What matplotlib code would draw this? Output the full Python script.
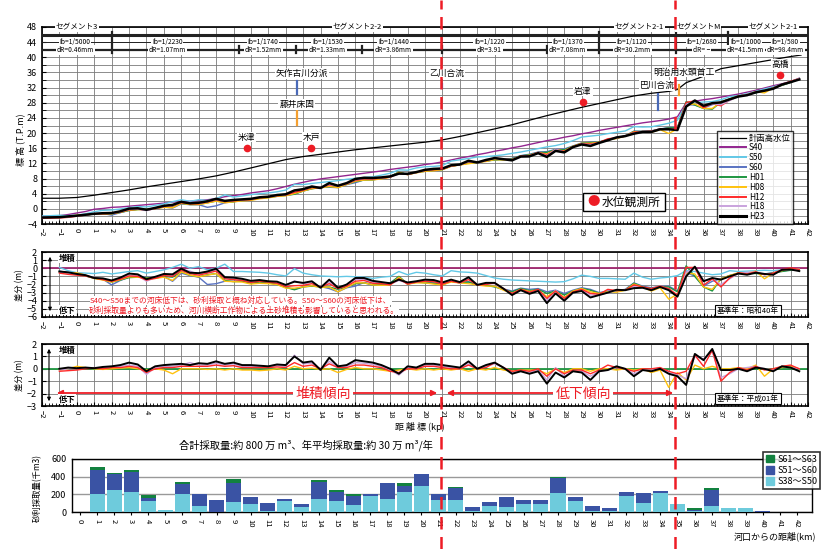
import numpy as np
import matplotlib
matplotlib.use('Agg')
import matplotlib.pyplot as plt
from matplotlib.lines import Line2D
from matplotlib.patches import Rectangle, Patch, FancyArrowPatch
from matplotlib.ticker import MultipleLocator

plt.rcParams['font.family'] = ['Noto Sans CJK JP', 'DejaVu Sans']
plt.rcParams['axes.unicode_minus'] = True

W, H = 832, 549

# ---------------- data ----------------
km = [-2, -1.5, -1, -0.5, 0, 0.5, 1, 1.5, 2, 2.5,
      3, 3.5, 4, 4.5, 5, 5.5, 6, 6.5, 7, 7.5,
      8, 8.5, 9, 9.5, 10, 10.5, 11, 11.5, 12, 12.5,
      13, 13.5, 14, 14.5, 15, 15.5, 16, 16.5, 17, 17.5,
      18, 18.5, 19, 19.5, 20, 20.5, 21, 21.5, 22, 22.5,
      23, 23.5, 24, 24.5, 25, 25.5, 26, 26.5, 27, 27.5,
      28, 28.5, 29, 29.5, 30, 30.5, 31, 31.5, 32, 32.5,
      33, 33.5, 34, 34.5, 35, 35.5, 36, 36.5, 37, 37.5,
      38, 38.5, 39, 39.5, 40, 40.5, 41, 41.5]

# S40 riverbed elevation (T.P.m)
S40 = [-2.0, -1.9, -1.8, -1.5, -1.1, -0.7, -0.1, 0.1, 0.4, 0.5,
       0.7, 0.9, 1.1, 1.3, 1.5, 1.8, 1.9, 2.0, 2.2, 2.4,
       2.7, 3.2, 3.5, 3.8, 4.2, 4.5, 4.8, 5.3, 5.9, 6.5,
       7.0, 7.5, 7.9, 8.2, 8.5, 8.8, 9.1, 9.4, 9.7, 10.0,
       10.4, 10.7, 11.0, 11.3, 11.7, 12.0, 12.4, 12.9, 13.4, 13.8,
       14.3, 14.7, 15.2, 15.6, 16.1, 16.5, 17.0, 17.5, 18.0, 18.4,
       18.9, 19.3, 19.8, 20.2, 20.7, 21.1, 21.5, 21.9, 22.3, 22.7,
       23.0, 23.3, 23.7, 24.3, 28.0, 28.4, 28.8, 29.1, 29.5, 29.9,
       30.3, 30.8, 31.3, 31.9, 32.5, 33.0, 33.6, 34.5]

# differences from S40 (m)
dS50 = [0.1, 0.1, 0.1, -0.3, -0.55, -0.6, -0.65, -0.5, -0.7, -0.55,
        -0.4, -0.3, -0.6, -0.4, -0.2, 0.1, 0.5, 0.0, 0.2, -0.2,
        0.0, 0.5, -0.4, -0.4, -0.45, -0.5, -0.6, -0.8, -0.95, -0.05,
        -0.6, -0.8, -0.95, -1.0, -1.05, -1.0, -1.05, -1.1, -1.25, -1.1,
        -1.0, -0.4, -0.8, -0.5, -0.6, -0.8, -0.95, -0.3, -0.45, -0.5,
        -0.6, -0.9, -1.2, -1.35, -1.45, -1.5, -1.55, -1.6, -1.65, -1.7,
        -1.65, -1.3, -0.85, -1.0, -1.25, -1.25, -1.3, -1.35, -0.6, -1.1,
        -1.35, -1.2, -1.1, -0.9, -0.3, -0.4, -0.6, -0.8, -0.7, -0.3,
        -0.4, -0.35, -0.3, -0.25, -0.3, -0.2, -0.15, -0.1]

dS60 = [-0.3, -0.35, -0.35, -0.55, -0.7, -0.9, -1.2, -1.35, -2.05, -1.5,
        -1.1, -1.0, -1.1, -1.2, -1.0, -1.6, -0.6, -0.9, -1.1, -2.0,
        -1.9, -1.6, -1.6, -1.55, -1.8, -1.65, -1.75, -1.95, -2.3, -2.6,
        -2.25, -2.15, -2.25, -2.5, -2.9, -2.4, -2.2, -1.75, -2.0, -1.95,
        -1.8, -1.05, -1.9, -1.65, -1.75, -1.8, -2.0, -1.55, -1.75, -1.65,
        -2.0, -2.05, -2.25, -2.55, -2.8, -2.45, -2.6, -2.5, -2.9, -2.7,
        -3.1, -2.7, -2.4, -2.6, -3.0, -2.8, -2.75, -2.6, -1.8, -2.2,
        -2.4, -2.25, -2.2, -2.8, -0.5, -1.0, -2.2, -1.6, -1.3, -0.9,
        -0.6, -0.6, -0.6, -0.7, -0.55, -0.35, -0.2, -0.15]

dH01 = [-0.3, -0.35, -0.4, -0.6, -0.75, -0.95, -1.25, -1.4, -1.7, -1.45,
        -1.15, -1.1, -1.15, -1.25, -1.0, -1.1, -0.45, -0.85, -1.05, -0.8,
        -0.65, -1.5, -1.65, -1.6, -1.85, -1.7, -1.8, -2.0, -2.35, -2.65,
        -2.3, -2.2, -2.3, -2.3, -2.6, -2.3, -1.9, -1.8, -2.05, -2.0,
        -1.85, -1.0, -1.95, -1.7, -1.8, -1.85, -2.05, -1.6, -1.8, -1.7,
        -2.05, -2.1, -2.3, -2.6, -2.9, -2.5, -2.75, -2.6, -3.1, -2.8,
        -3.3, -2.8, -2.5, -2.7, -3.1, -2.9, -2.85, -2.7, -1.85, -2.3,
        -2.5, -2.3, -2.3, -2.9, 0.3, -1.0, -2.3, -2.8, -1.3, -0.9,
        -0.65, -0.6, -0.65, -0.7, -0.6, -0.4, -0.25, -0.15]

# differences from H01 (m)
eH08 = [-0.1, -0.1, -0.1, 0.0, 0.2, 0.1, 0.0, -0.05, 0.0, 0.05,
        0.1, 0.0, -0.1, 0.0, -0.1, -0.4, 0.0, 0.0, 0.0, -0.05,
        0.0, -0.1, 0.0, -0.1, -0.1, -0.15, -0.1, 0.0, -0.1, 0.2,
        0.0, 0.05, -0.05, 0.0, -0.3, -0.05, 0.1, 0.0, 0.0, -0.1,
        -0.2, -0.1, 0.0, -0.1, 0.0, -0.1, 0.0, -0.1, 0.0, -0.2,
        0.0, -0.1, 0.1, -0.1, -0.2, -0.1, -0.1, -0.1, -0.4, 0.0,
        -0.3, 0.0, 0.0, -0.2, 0.0, 0.0, -0.1, 0.0, -0.1, 0.0,
        -0.3, -0.1, -1.5, -0.3, -0.9, 0.3, 0.0, 0.2, 0.0, 0.0,
        0.1, 0.0, 0.3, -0.6, 0.0, 0.1, 0.2, 0.0]

eH12 = [-0.2, -0.2, -0.2, -0.15, -0.1, 0.0, 0.05, 0.0, 0.1, 0.1,
        0.2, 0.1, -0.3, 0.0, 0.1, 0.1, 0.2, 0.2, 0.2, 0.2,
        0.3, 0.2, 0.25, 0.1, 0.1, 0.1, 0.1, 0.15, 0.1, 0.5,
        0.2, 0.3, 0.0, 0.4, 0.1, 0.1, 0.3, 0.3, 0.2, 0.1,
        -0.2, -0.3, 0.0, 0.0, 0.2, 0.2, 0.1, 0.0, 0.0, 0.3,
        0.0, 0.1, 0.5, 0.1, -0.2, -0.1, -0.2, 0.0, -0.6, 0.0,
        -0.4, -0.1, -0.1, -0.4, -0.1, 0.3, 0.1, 0.0, -0.2, 0.0,
        0.0, 0.1, -0.2, -0.4, -0.2, 1.1, 0.2, 1.5, -1.0, -0.3,
        0.1, -0.1, 0.2, -0.1, 0.0, 0.2, 0.3, 0.0]

eH18 = [0.0, 0.0, -0.1, 0.0, 0.0, 0.05, 0.1, 0.1, 0.15, 0.2,
        0.3, 0.2, -0.45, 0.1, 0.2, 0.2, 0.3, 0.5, 0.3, 0.3,
        0.45, 0.3, 0.4, 0.2, 0.2, 0.2, 0.15, 0.25, 0.2, 1.1,
        0.4, 0.45, 0.0, 0.6, 0.1, 0.2, 0.5, 0.45, 0.35, 0.2,
        -0.1, -0.5, 0.1, 0.0, 0.3, 0.3, 0.2, 0.1, 0.0, 0.4,
        0.0, 0.2, 0.4, 0.1, -0.3, -0.2, -0.3, -0.1, -0.9, 0.1,
        -0.6, -0.2, -0.2, -0.6, -0.2, -0.1, 0.1, 0.0, -0.4, -0.1,
        -0.1, 0.1, -0.3, -0.5, -0.8, 1.0, 0.8, 1.4, -0.7, -0.4,
        0.0, 0.1, 0.2, 0.0, -0.1, 0.2, 0.1, 0.0]

eH23 = [0.0, 0.0, 0.0, 0.1, 0.05, 0.1, 0.05, 0.15, 0.2, 0.3,
        0.5, 0.35, -0.2, 0.2, 0.3, 0.35, 0.4, 0.3, 0.45, 0.4,
        0.6, 0.4, 0.5, 0.3, 0.3, 0.25, 0.2, 0.35, 0.3, 1.0,
        0.5, 0.6, -0.1, 0.9, 0.2, 0.3, 0.7, 0.6, 0.5, 0.3,
        0.0, -0.4, 0.2, 0.1, 0.4, 0.4, 0.3, 0.2, 0.1, 0.6,
        0.0, 0.3, 0.5, 0.1, -0.4, -0.2, -0.4, -0.2, -1.2, -0.3,
        -0.7, -0.2, -0.3, -0.9, -0.2, -0.1, 0.2, 0.0, -0.6, -0.1,
        -0.2, 0.0, -0.4, -0.6, -1.3, 1.2, 0.7, 1.6, -0.1, -0.1,
        0.0, -0.2, 0.1, 0.0, -0.2, 0.2, 0.1, -0.2]

# planned high water level
hwl_km = [-2, -1, 0, 1, 2, 3, 4, 5, 6, 7, 8, 9, 10, 11, 12, 13, 14, 15, 16, 17,
          18, 19, 20, 21, 22, 23, 24, 25, 26, 27, 28, 29, 30, 31, 32, 33, 34,
          34.5, 35, 36, 37, 38, 39, 40, 41, 41.6]
hwl = [2.8, 2.8, 3.0, 3.6, 4.3, 5.0, 5.8, 6.5, 7.2, 7.9, 8.7, 9.7, 10.8, 11.9,
       13.0, 13.8, 14.4, 15.0, 15.6, 16.1, 16.6, 17.1, 17.6, 18.2, 19.1, 20.1,
       21.1, 22.2, 23.4, 24.6, 25.7, 26.8, 27.8, 28.8, 29.8, 30.5, 31.0, 31.5,
       33.3, 35.0, 37.0, 37.8, 38.6, 39.4, 40.2, 40.6]

# gravel extraction (thousand m3)
bar_km = list(range(0, 43))
g_S38_S50 = [0, 200, 245, 222, 121, 23, 200, 64, 5, 109, 87, 10, 124, 53, 143,
             124, 75, 177, 143, 222, 290, 132, 132, 8, 64, 53, 87, 87, 211, 121,
             11, 8, 177, 98, 211, 87, 11, 64, 41, 41, 5, 0, 0]
g_S51_S60 = [3, 280, 190, 227, 41, 0, 113, 136, 127, 219, 79, 88, 23, 34, 196,
             106, 110, 23, 181, 72, 136, 68, 139, 45, 45, 113, 45, 45, 174, 45,
             53, 33, 45, 113, 23, 0, 8, 181, 0, 0, 3, 0, 0]
g_S61_S63 = [0, 25, 7, 22, 26, 0, 23, 0, 0, 41, 0, 0, 0, 0, 19, 15, 19, 0, 0,
             30, 0, 0, 8, 0, 0, 0, 0, 0, 7, 0, 0, 0, 0, 0, 0, 0, 22, 23, 0, 0,
             0, 0, 0]

# annotations
seg_names = ['セグメント3', 'セグメント2-2', 'セグメント2-1', 'セグメントM', 'セグメント2-1']
seg_pos = [0, 16.1, 32.3, 35.7, 40.0]
seg_bounds = [2, 30, 34.4, 37.4]
sub_bounds = [9.3, 12.6, 16.4, 21, 27, 39.1]
ib_text = ['Ib=1/5000', 'Ib=1/2230', 'Ib=1/1740', 'Ib=1/1530', 'Ib=1/1440', 'Ib=1/1220',
           'Ib=1/1370', 'Ib=1/1120', 'Ib=1/2680', 'Ib=1/1000', 'Ib=1/580']
dr_text = ['dR=0.46mm', 'dR=1.07mm', 'dR=1.52mm', 'dR=1.33mm', 'dR=3.86mm', 'dR=3.91',
           'dR=7.08mm', 'dR=30.2mm', 'dR= −', 'dR=41.5mm', 'dR=98.4mm']
ib_pos = [-0.1, 5.2, 10.7, 14.4, 18.2, 23.7, 28.2, 31.9, 35.9, 38.4, 40.7]

stations = ['米津', '木戸', '岩津', '高橋']
st_km = [9.76, 13.46, 29.07, 40.41]
st_el = [16.05, 16.05, 28.2, 35.3]

structs = ['矢作古川分派', '藤井床固', '乙川合流', '巴川合流', '明治用水頭首工']
struct_text_km = [12.92, 12.64, 21.26, 33.33, 34.86]
struct_text_el = [35.7, 27.6, 35.7, 32.5, 36.1]
struct_km = [12.64, 12.64, 21.0, 33.38, 34.6]
struct_lo = [30.3, 22.2, 31.8, 26.1, 30.0]
struct_hi = [33.8, 26.0, 33.0, 30.3, 32.6]
struct_col = ['#4a6ab8', '#f5a030', '#4a6ab8', '#4a6ab8', '#f5a030']

# ---------------- derived series ----------------
x = np.array(km)
s40 = np.array(S40)
d50, d60, d01 = np.array(dS50), np.array(dS60), np.array(dH01)
e08, e12, e18, e23 = np.array(eH08), np.array(eH12), np.array(eH18), np.array(eH23)

prof = {
    'S40': s40, 'S50': s40 + d50, 'S60': s40 + d60, 'H01': s40 + d01,
    'H08': s40 + d01 + e08, 'H12': s40 + d01 + e12,
    'H18': s40 + d01 + e18, 'H23': s40 + d01 + e23,
}
diff40 = {'S50': d50, 'S60': d60, 'H01': d01, 'H08': d01 + e08,
          'H12': d01 + e12, 'H18': d01 + e18, 'H23': d01 + e23}
diff01 = {'H08': e08, 'H12': e12, 'H18': e18, 'H23': e23}

col = {'S40': '#93268f', 'S50': '#62c8e6', 'S60': '#5a73c2', 'H01': '#1e9640',
       'H08': '#ffc20e', 'H12': '#ff2a2a', 'H18': '#c9a3dd', 'H23': '#000000'}
lw = {'S40': 1.0, 'S50': 1.0, 'S60': 1.0, 'H01': 1.0, 'H08': 1.0, 'H12': 1.0,
      'H18': 1.0, 'H23': 1.8}

# ---------------- figure ----------------
fig = plt.figure(figsize=(W / 100, H / 100), dpi=100)


def add_ax(l, t, r, b):
    return fig.add_axes([l / W, 1 - b / H, (r - l) / W, (b - t) / H])


def ftext(px, py, s, **kw):
    return fig.text(px / W, 1 - py / H, s, **kw)


def style_x(ax):
    ax.set_xlim(-2, 42)
    ax.set_xticks(range(-2, 43))
    ax.xaxis.set_minor_locator(MultipleLocator(0.2))
    ax.tick_params(axis='x', which='major', labelsize=5.5, labelrotation=270,
                   direction='in', length=3, pad=3)
    ax.tick_params(axis='x', which='minor', direction='in', length=2)
    ax.tick_params(axis='y', which='both', direction='in', labelsize=6.5, length=3)
    for s in ax.spines.values():
        s.set_linewidth(1.2)


GRID = '#7a7a7a'

# ---- top panel ----
ax1 = add_ax(42, 27, 808, 224)
style_x(ax1)
ax1.set_ylim(-4, 48)
ax1.set_yticks(range(-4, 49, 4))
ax1.yaxis.set_minor_locator(MultipleLocator(2))
ax1.grid(True, which='major', axis='x', color=GRID, lw=0.6)
ax1.grid(True, which='both', axis='y', color=GRID, lw=0.6)
ax1.set_axisbelow(True)

ax1.plot(hwl_km, hwl, color='black', lw=0.9, zorder=3)
for k in ['S40', 'S50', 'S60', 'H01', 'H08', 'H12', 'H18', 'H23']:
    ax1.plot(x, prof[k], color=col[k], lw=lw[k], zorder=3)

# header
ax1.plot([-2, 42], [46, 46], color='#222', lw=2.2, zorder=4)
ax1.plot([-2, 42], [44, 44], color='#222', lw=0.7, zorder=4)
ax1.plot([-2, 42], [42, 42], color='#222', lw=1.6, zorder=4)
for b in seg_bounds:
    ax1.plot([b, b], [41.2, 46.8], color='#222', lw=1.6, zorder=4)
for b in sub_bounds:
    ax1.plot([b, b], [41.2, 42.9], color='#222', lw=1.6, zorder=4)
wb = dict(fc='white', ec='none', pad=0.6)
for n, p in zip(seg_names, seg_pos):
    ax1.text(p, 48, n, fontsize=5.5, ha='center', va='center', bbox=wb, zorder=6, clip_on=False)
for a, b_, p in zip(ib_text, dr_text, ib_pos):
    ax1.text(p, 44, a, fontsize=4.8, ha='center', va='center', bbox=wb, zorder=6)
    ax1.text(p, 42, b_, fontsize=4.8, ha='center', va='center', bbox=wb, zorder=6)

# stations and structures
ax1.plot(st_km, st_el, 'o', color='#ee1c25', ms=4.5, zorder=6)
for n, k, e in zip(stations, st_km, st_el):
    ax1.text(k, e + 2.9, n, fontsize=6.3, ha='center', va='center', bbox=wb, zorder=6)
for n, tk, te, k, lo, hi, c in zip(structs, struct_text_km, struct_text_el, struct_km,
                                     struct_lo, struct_hi, struct_col):
    ax1.plot([k, k], [lo, hi], color=c, lw=1.6, zorder=6)
    ax1.text(tk, te, n, fontsize=6.3, ha='center', va='center', bbox=wb, zorder=6)

handles = [Line2D([], [], color='black', lw=0.9, label='計画高水位')]
for k in ['S40', 'S50', 'S60', 'H01', 'H08', 'H12', 'H18', 'H23']:
    handles.append(Line2D([], [], color=col[k], lw=lw[k] + 0.4, label=k))
leg = fig.legend(handles=handles, loc='upper left', bbox_to_anchor=(717 / W, 1 - 131 / H),
                 fontsize=6, frameon=True, fancybox=False, edgecolor='black',
                 handlelength=3.2, labelspacing=0.1, borderpad=0.3, handletextpad=0.3,
                 borderaxespad=0)
leg.get_frame().set_linewidth(1.0)

# 水位観測所 box
fig.add_artist(Rectangle((583 / W, 1 - 211 / H), 82 / W, 18 / H, transform=fig.transFigure,
                         fc='white', ec='black', lw=1.0, zorder=5))
ftext(594, 202, '●', color='#ee1c25', fontsize=9, ha='center', va='center', zorder=6)
ftext(602, 202, '水位観測所', color='black', fontsize=8.5, ha='left', va='center', zorder=6)

# ---- panel 2 (base S40) ----
m = x >= -1
ax2 = add_ax(42, 252, 808, 317)
style_x(ax2)
ax2.set_ylim(-6, 2)
ax2.set_yticks(range(-6, 3))
ax2.grid(True, which='major', color=GRID, lw=0.6)
ax2.set_axisbelow(True)
ax2.axhline(0, color='#a0266e', lw=1.3, zorder=2)
for k in ['S50', 'S60', 'H01', 'H08', 'H18', 'H12', 'H23']:
    ax2.plot(x[m], diff40[k][m], color=col[k], lw=1.0 if k != 'H23' else 1.4, zorder=3)
ftext(90, 300.5, 'S40～S50までの河床低下は、砂利採取と概ね対応している。S50～S60の河床低下は、',
      color='#ee1c25', fontsize=5.6, ha='left', va='center',
      bbox=dict(fc='white', ec='none', pad=0.3), zorder=5)
ftext(89, 311, '砂利採取量よりも多いため、河川横断工作物による土砂堆積も影響していると思われる。',
      color='#ee1c25', fontsize=5.6, ha='left', va='center',
      bbox=dict(fc='white', ec='none', pad=0.3), zorder=5)
ftext(748, 310.5, '基準年：昭和40年', fontsize=5.5, ha='center', va='center',
      bbox=dict(fc='white', ec='black', pad=1.2, lw=0.8), zorder=5)

# ---- panel 3 (base H01) ----
ax3 = add_ax(42, 344, 808, 406)
style_x(ax3)
ax3.set_ylim(-3, 2)
ax3.set_yticks(range(-3, 3))
ax3.grid(True, which='major', color=GRID, lw=0.6)
ax3.set_axisbelow(True)
ax3.axhline(0, color=col['H01'], lw=1.3, zorder=2)
for k in ['H08', 'H18', 'H12', 'H23']:
    ax3.plot(x[m], diff01[k][m], color=col[k], lw=1.0 if k != 'H23' else 1.4, zorder=3)
ftext(748, 398.5, '基準年：平成01年', fontsize=5.5, ha='center', va='center',
      bbox=dict(fc='white', ec='black', pad=1.2, lw=0.8), zorder=5)

# deposition / degradation arrows
for (xa, y1, y2, ty1, ty2) in [(50, 254, 314, 258, 310), (49, 346, 404, 350, 399)]:
    fig.add_artist(FancyArrowPatch((xa / W, 1 - y2 / H), (xa / W, 1 - y1 / H),
                                   transform=fig.transFigure, arrowstyle='<|-|>',
                                   mutation_scale=5, lw=0.8, color='black', zorder=6))
    ftext(67, ty1, '堆積', fontsize=6, fontweight='bold', ha='center', va='center',
          bbox=dict(fc='white', ec='none', pad=0.2), zorder=6)
    ftext(67, ty2, '低下', fontsize=6, fontweight='bold', ha='center', va='center',
          bbox=dict(fc='white', ec='none', pad=0.2), zorder=6)

# tendency arrows
for (xa, xb) in [(54, 440), (444, 676)]:
    fig.add_artist(FancyArrowPatch((xa / W, 1 - 393 / H), (xb / W, 1 - 393 / H),
                                   transform=fig.transFigure, arrowstyle='<|-|>',
                                   mutation_scale=8, lw=1.3, color='#ee1c25', zorder=6))
ftext(323, 393.5, '堆積傾向', color='#ee1c25', fontsize=10, ha='center', va='center',
      bbox=dict(fc='white', ec='none', pad=1.5), zorder=7)
ftext(583, 393.5, '低下傾向', color='#ee1c25', fontsize=10, ha='center', va='center',
      bbox=dict(fc='white', ec='none', pad=1.5), zorder=7)

# ---- bar panel ----
ax4 = add_ax(72, 459, 812, 512)
ax4.set_xlim(-0.47, 42.88)
ax4.set_ylim(0, 600)
ax4.set_yticks([0, 200, 400, 600])
ax4.set_xticks(bar_km)
ax4.tick_params(axis='x', labelsize=5.5, labelrotation=270, length=2, pad=3)
ax4.tick_params(axis='y', labelsize=6.5, length=0, pad=4)
ax4.grid(True, axis='y', color='#999', lw=1.0)
ax4.set_axisbelow(True)
for s in ax4.spines.values():
    s.set_linewidth(1.0)
b1 = np.array(g_S38_S50)
b2 = np.array(g_S51_S60)
b3 = np.array(g_S61_S63)
ax4.bar(bar_km, b1, width=0.88, color='#6ecbdc', label='S38～S50', zorder=3)
ax4.bar(bar_km, b2, width=0.88, bottom=b1, color='#3a53a4', label='S51～S60', zorder=3)
ax4.bar(bar_km, b3, width=0.88, bottom=b1 + b2, color='#12813f', label='S61～S63', zorder=3)
bh = [Patch(color='#12813f', label='S61～S63'), Patch(color='#3a53a4', label='S51～S60'),
      Patch(color='#6ecbdc', label='S38～S50')]
lg2 = fig.legend(handles=bh, loc='upper left', bbox_to_anchor=(763 / W, 1 - 452 / H),
                 fontsize=6.5, frameon=True, fancybox=False, edgecolor='black',
                 handlelength=0.9, handleheight=0.9, labelspacing=0.25, borderpad=0.3,
                 handletextpad=0.4, borderaxespad=0)
lg2.get_frame().set_linewidth(1.2)

# ---- labels ----
ftext(20, 140, '標 高 (T.P.m)', rotation=90, fontsize=6.5, ha='center', va='center')
ftext(20, 285, '差分 (m)', rotation=90, fontsize=6, ha='center', va='center')
ftext(20, 375, '差分 (m)', rotation=90, fontsize=6, ha='center', va='center')
ftext(37, 488, '砂利採取量(千m3)', rotation=90, fontsize=6, ha='center', va='center')
ftext(420, 427, '距 離 標 (kp)', fontsize=6.5, ha='center', va='center')
ftext(306, 445, '合計採取量:約 800 万 m³、年平均採取量:約 30 万 m³/年', fontsize=7.4,
      ha='center', va='center')
ftext(775, 536, '河口からの距離(km)', fontsize=6.5, ha='center', va='center')

# red dashed boundaries across the whole figure
for px in [441, 675]:
    fig.add_artist(Line2D([px / W, px / W], [0, 1], transform=fig.transFigure,
                          color='#ee1c25', lw=1.8, ls=(0, (5, 3)), zorder=20))

fig.savefig('out.png', dpi=100)
